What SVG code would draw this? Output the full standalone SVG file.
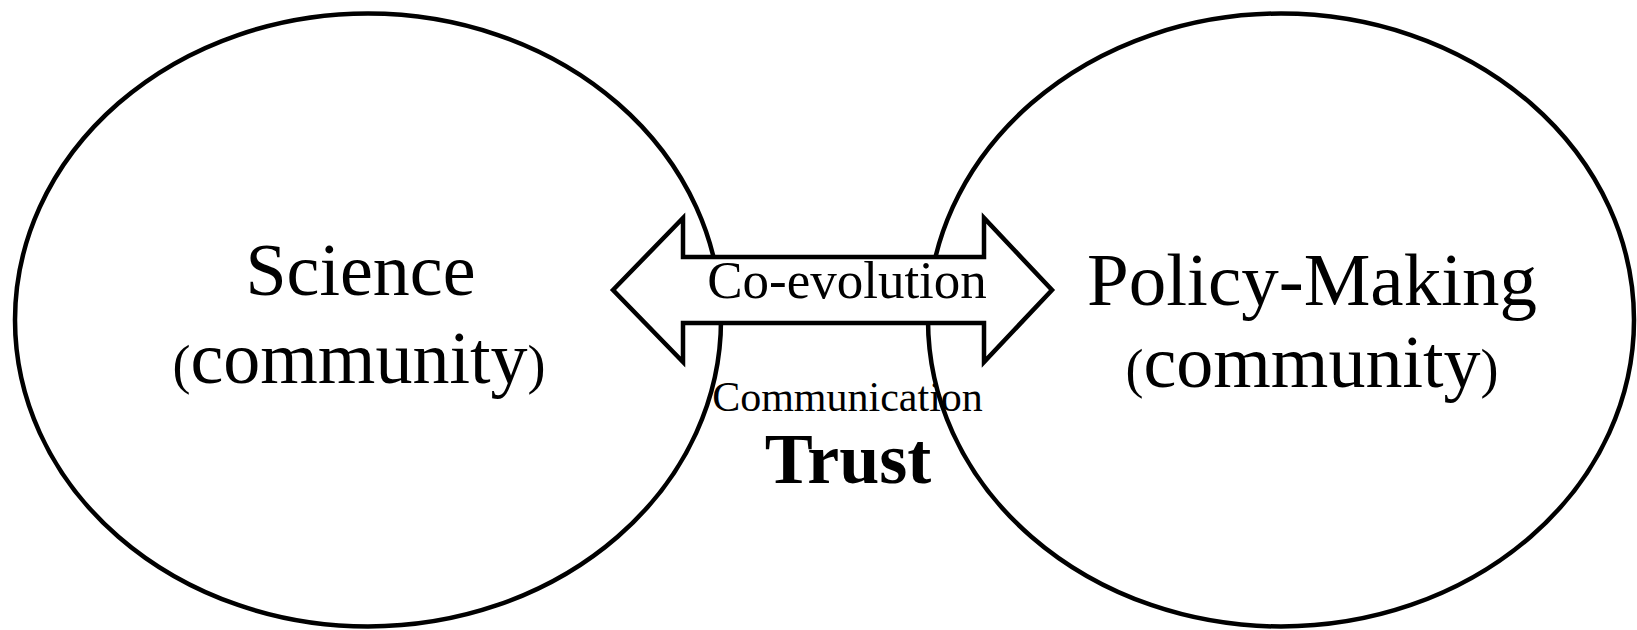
<svg xmlns="http://www.w3.org/2000/svg" width="1637" height="630" viewBox="0 0 1637 630">
<style>
.ell{fill:none;stroke:#000;stroke-width:4.5}
.arr{fill:#fff;stroke:#000;stroke-width:4.5;stroke-linejoin:miter}
.t{font-family:"Liberation Serif","Times New Roman",serif;fill:#000;text-anchor:middle}
.p{font-size:54px}
</style>
<rect width="1637" height="630" fill="#fff"/>
<g id="science">
<ellipse class="ell" cx="368" cy="320" rx="353" ry="306.5"/>
<text class="t" x="360.5" y="295" font-size="74">Science</text>
<text class="t" x="359" y="383" font-size="74"><tspan class="p">(</tspan>community<tspan class="p">)</tspan></text>
</g>
<g id="policy">
<ellipse class="ell" cx="1281" cy="320" rx="353" ry="306.5"/>
<text class="t" x="1312" y="305" font-size="75">Policy-Making</text>
<text class="t" x="1312" y="387" font-size="74"><tspan class="p">(</tspan>community<tspan class="p">)</tspan></text>
</g>
<g id="connectors">
<polygon class="arr" points="613,290 683,218 683,257 984,257 984,218 1052,290 984,362 984,323 683,323 683,362"/>
<text class="t" x="847" y="298" font-size="53">Co-evolution</text>
</g>
<g id="labels">
<text class="t" x="847.5" y="411" font-size="42">Communication</text>
<text class="t" x="848" y="483" font-size="72" font-weight="bold">Trust</text>
</g>
</svg>
